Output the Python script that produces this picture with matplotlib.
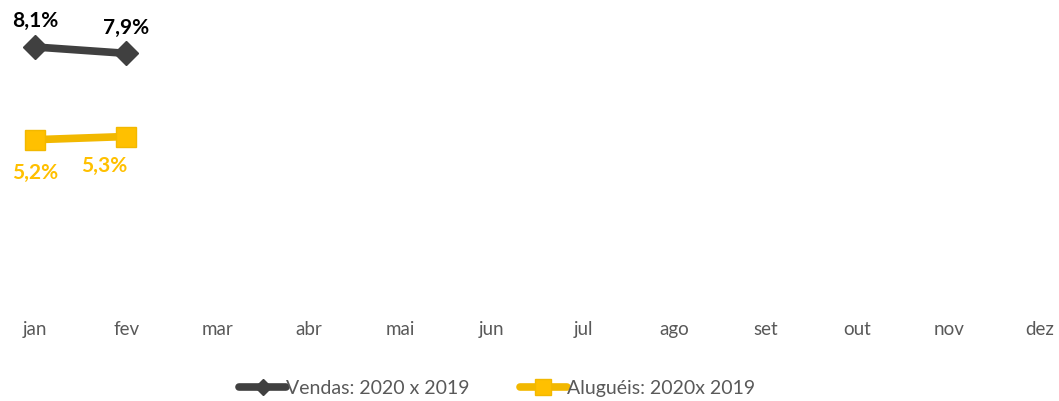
import matplotlib
matplotlib.use("Agg")
import matplotlib.pyplot as plt
from matplotlib.lines import Line2D

months = ["jan", "fev", "mar", "abr", "mai", "jun", "jul", "ago", "set", "out", "nov", "dez"]
vendas = [8.1, 7.9]
alugueis = [5.2, 5.3]
vendas_labels = ["8,1%", "7,9%"]
alugueis_labels = ["5,2%", "5,3%"]
vendas_name = "Vendas: 2020 x 2019"
alugueis_name = "Aluguéis: 2020x 2019"

plt.rcParams['font.family'] = ['Lato', 'DejaVu Sans']

W, H = 1059, 402
fig = plt.figure(figsize=(W / 100, H / 100), dpi=100)
ax = fig.add_axes([0, 1 - 307 / H, 1, 307 / H])
ax.set_xlim(-35 / 91.4, 11 + 19 / 91.4)
ax.set_ylim(0, 9.6)

dark = "#404040"
yellow = "#FFC000"
yline = "#F2B800"

x = list(range(len(vendas)))
ax.plot(x, vendas, color=dark, lw=5.5, marker="D", ms=12, mfc=dark, mec=dark, solid_capstyle="round")
ax.plot(list(range(len(alugueis))), alugueis, color=yline, lw=5.5, marker="s", ms=15,
        mfc=yellow, mec=yline, mew=1)

for i, (v, t) in enumerate(zip(vendas, vendas_labels)):
    ax.annotate(t, (i, v), xytext=(0, 12), textcoords="offset points", ha="center", va="bottom",
                fontsize=15, fontweight="bold", color="#000000")
offs = [(0, -16), (-16, -13)]
for i, (v, t) in enumerate(zip(alugueis, alugueis_labels)):
    ax.annotate(t, (i, v), xytext=offs[i], textcoords="offset points", ha="center", va="top",
                fontsize=15, fontweight="bold", color=yellow)

for s in ax.spines.values():
    s.set_visible(False)
ax.set_yticks([])
ax.set_xticks(range(len(months)))
ax.set_xticklabels(months, fontsize=13.5, color="#595959")
ax.tick_params(axis="x", length=0, pad=10)

handles = [
    Line2D([0], [0], color=dark, lw=5.5, marker="D", ms=8, mfc=dark, mec=dark, solid_capstyle="round"),
    Line2D([0], [0], color=yline, lw=5.5, marker="s", ms=11, mfc=yellow, mec=yline, solid_capstyle="round"),
]
leg = fig.legend(handles, [vendas_name, alugueis_name], loc="center", bbox_to_anchor=(497 / W, 1 - 389 / H),
                 ncol=2, frameon=False, fontsize=14, handlelength=2.4, handletextpad=0.0, columnspacing=2.6,
                 labelcolor="#595959")

fig.savefig("out.png", dpi=100)
